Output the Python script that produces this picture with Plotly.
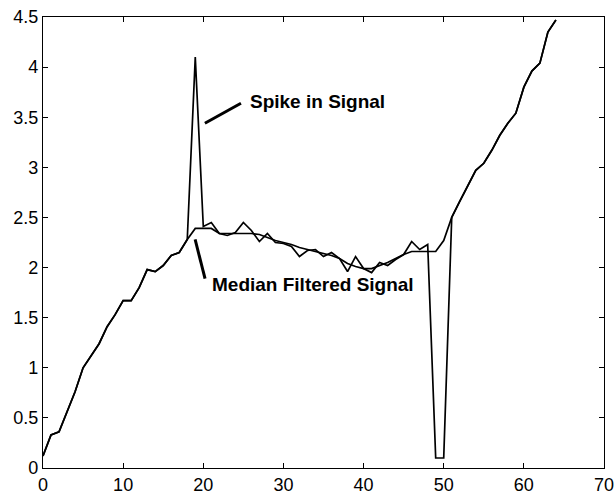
import plotly.graph_objects as go

# Sample index
sample = list(range(65))

# Raw signal with a positive spike near 19 and a dropout near 49-50
signal = [
    0.12, 0.33, 0.36, 0.56, 0.76, 1.00, 1.12, 1.24, 1.41, 1.53,
    1.67, 1.67, 1.80, 1.98, 1.96, 2.02, 2.12, 2.15, 2.28, 4.10,
    2.41, 2.45, 2.34, 2.32, 2.35, 2.45, 2.37, 2.26, 2.34, 2.25,
    2.24, 2.21, 2.11, 2.17, 2.18, 2.11, 2.15, 2.09, 1.96, 2.11,
    1.99, 1.95, 2.05, 2.02, 2.08, 2.13, 2.26, 2.18, 2.23, 0.10,
    0.10, 2.50, 2.66, 2.82, 2.97, 3.04, 3.17, 3.32, 3.44, 3.54,
    3.80, 3.96, 4.04, 4.35, 4.47,
]

# Median-filtered version of the same signal
filtered = [
    0.12, 0.33, 0.36, 0.56, 0.76, 1.00, 1.12, 1.24, 1.41, 1.53,
    1.67, 1.67, 1.80, 1.98, 1.96, 2.02, 2.12, 2.15, 2.28, 2.39,
    2.39, 2.39, 2.34, 2.34, 2.34, 2.34, 2.34, 2.33, 2.30, 2.27,
    2.25, 2.23, 2.20, 2.18, 2.16, 2.14, 2.12, 2.09, 2.04, 2.01,
    1.99, 1.99, 2.02, 2.05, 2.09, 2.13, 2.16, 2.16, 2.16, 2.16,
    2.27, 2.50, 2.66, 2.82, 2.97, 3.04, 3.17, 3.32, 3.44, 3.54,
    3.80, 3.96, 4.04, 4.35, 4.47,
]

x_ticks = [0, 10, 20, 30, 40, 50, 60, 70]
y_ticks = [0, 0.5, 1, 1.5, 2, 2.5, 3, 3.5, 4, 4.5]

# Callout labels: (text, text anchor x, y, pointer start, pointer end)
spike_label = ("Spike in Signal", 25.6, 3.66, (20.2, 3.44), (24.7, 3.64))
median_label = ("Median Filtered Signal", 20.85, 1.83, (18.98, 2.28), (20.22, 1.89))

FONT = "Arial, Liberation Sans, Helvetica, sans-serif"

fig = go.Figure()
fig.add_trace(go.Scatter(x=sample, y=signal, mode="lines",
                         line=dict(color="black", width=1.7), name="signal"))
fig.add_trace(go.Scatter(x=sample, y=filtered, mode="lines",
                         line=dict(color="black", width=1.7), name="median"))

for text, tx, ty, p0, p1 in (spike_label, median_label):
    fig.add_shape(type="line", x0=p0[0], y0=p0[1], x1=p1[0], y1=p1[1],
                  xref="x", yref="y", line=dict(color="black", width=3))
    fig.add_annotation(x=tx, y=ty, text=f"<b>{text}</b>", showarrow=False,
                       xanchor="left", yanchor="middle",
                       font=dict(family=FONT, size=19, color="black"))

axis_common = dict(
    showgrid=False, zeroline=False, showline=True, linecolor="black",
    linewidth=1.2, mirror="ticks", ticks="inside", ticklen=5,
    tickcolor="black", tickwidth=1.2, automargin=False,
    ticklabeloverflow="allow",
    tickfont=dict(family=FONT, size=18, color="black"),
)

fig.update_xaxes(range=[0, 70], tickvals=x_ticks,
                 ticktext=[str(v) for v in x_ticks], **axis_common)
fig.update_yaxes(range=[0, 4.5], tickvals=y_ticks,
                 ticktext=[f"{v:g}" for v in y_ticks], **axis_common)

fig.update_layout(
    width=614, height=496,
    margin=dict(l=43, r=10, t=17, b=28, autoexpand=False),
    paper_bgcolor="white", plot_bgcolor="white",
    showlegend=False,
)

fig.write_html("out.html")
